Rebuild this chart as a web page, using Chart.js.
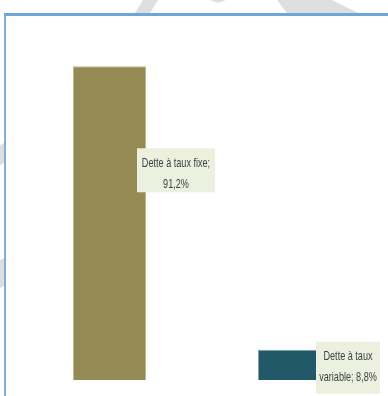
<!DOCTYPE html>
<html>
<head>
<meta charset="utf-8">
<script src="https://cdn.jsdelivr.net/npm/chart.js@4/dist/chart.umd.min.js"></script>
<style>
  html, body { margin: 0; padding: 0; background: #fff; }
  body { width: 388px; height: 396px; position: relative; overflow: hidden; }
  #mark { position: absolute; left: 0; top: 0; }
  #frame {
    position: absolute; left: 4px; top: 13px;
    width: 382px; height: 380px;
    border-top: 3px solid #6fa6d9; border-left: 2px solid #7db0de;
    background: #fff;
  }
  #debt { display: block; filter: blur(0.4px); }
</style>
</head>
<body>
<!-- faint background watermark around the frame -->
<svg id="mark" width="388" height="396">
  <g fill="#dedede">
    <polygon points="135,13 150,13 158,0 143,0"/>
    <polygon points="210,0 226,0 218,3"/>
    <polygon points="277,0 332,0 358,13 287,13"/>
    <polygon points="0,145 4,143 4,163 0,165"/>
    <polygon points="0,260 4,258 4,286 0,288"/>
  </g>
</svg>
<div id="frame"><canvas id="debt" width="382" height="380"></canvas></div>
<script>
var categories = ['Dette à taux fixe', 'Dette à taux variable'];
var shares = [91.2, 8.8];
var barColors = ['#948a54', '#215968'];
var barEdges = ['#bdb794', '#7fa3ad'];
// words kept on the first line of each data label
var firstLineWords = [4, 3];

// label boxes, placed from the bar centre (dx) and bar top (dy)
var labelBoxes = [
    {dx: 27.5, dy: 82, w: 78, h: 44},
    {dx: 21.5, dy: -8, w: 64, h: 52}
];

function labelLines(i) {
    var text = categories[i] + '; ' + shares[i].toFixed(1).replace('.', ',') + '%';
    var words = text.split(' ');
    return [words.slice(0, firstLineWords[i]).join(' '), words.slice(firstLineWords[i]).join(' ')];
}

var barLabels = {
    id: 'barLabels',
    afterDatasetsDraw: function (chart) {
        var ctx = chart.ctx;
        var bars = chart.getDatasetMeta(0).data;
        bars.forEach(function (bar, i) {
            var box = labelBoxes[i];
            var left = bar.x + box.dx;
            var top = bar.y + box.dy;
            ctx.save();
            ctx.fillStyle = '#ebf1de';
            ctx.fillRect(left, top, box.w, box.h);
            ctx.fillStyle = '#404040';
            ctx.font = '13px "Liberation Sans", Arial, sans-serif';
            ctx.textAlign = 'center';
            ctx.textBaseline = 'middle';
            labelLines(i).forEach(function (line, k) {
                ctx.save();
                ctx.translate(left + box.w / 2, top + 15 + k * 21);
                ctx.scale(0.7, 1);
                ctx.fillText(line, 0, 0);
                ctx.restore();
            });
            ctx.restore();
        });
    }
};

new Chart(document.getElementById('debt'), {
    type: 'bar',
    data: {
        labels: categories,
        datasets: [{
            data: shares,
            backgroundColor: barColors,
            borderColor: barEdges,
            borderWidth: 1,
            categoryPercentage: 1,
            barPercentage: 0.395
        }]
    },
    options: {
        responsive: false,
        animation: false,
        layout: {padding: {left: 11, right: 1, top: 20, bottom: 16}},
        plugins: {legend: {display: false}, tooltip: {enabled: false}},
        scales: {
            x: {display: false},
            y: {display: false, min: 0, max: 100}
        }
    },
    plugins: [barLabels]
});
</script>
</body>
</html>
